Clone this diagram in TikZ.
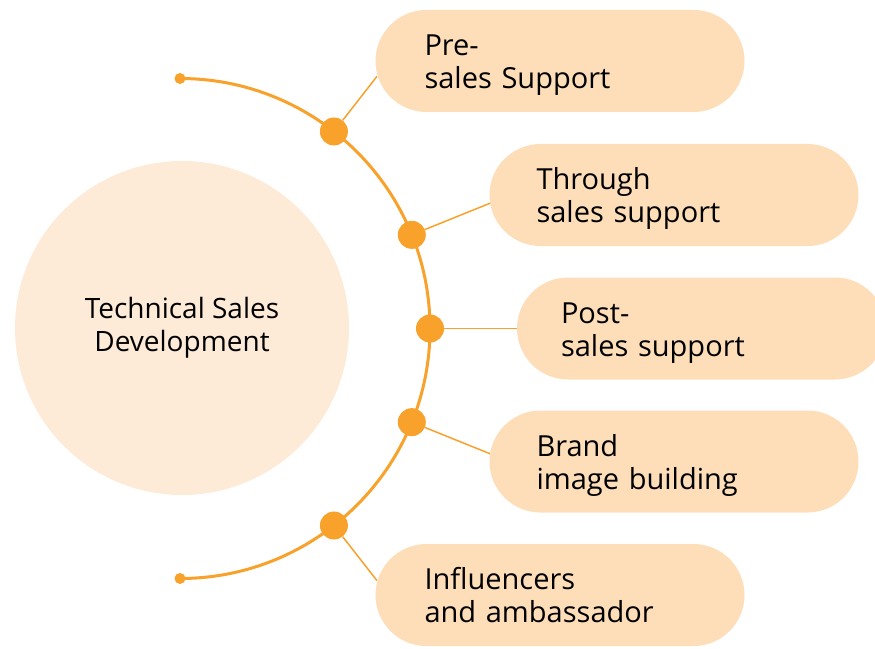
\documentclass[tikz,border=0pt]{standalone}
\usepackage{fontspec}
\setmainfont{Open Sans}
\usepackage{tikz}

\definecolor{arcorange}{HTML}{F8A12B}
\definecolor{pillfill}{HTML}{FDDEB8}
\definecolor{corefill}{HTML}{FDEBD8}

\begin{document}
\begin{tikzpicture}[x=1pt,y=1pt,
        pill/.style={fill=pillfill, rounded corners=51pt, minimum width=369pt,
            minimum height=102pt, text width=275pt, inner xsep=47pt, align=left,
            text height=25pt, text depth=36pt,
            font=\fontsize{29}{33}\selectfont},
        bigdot/.style={circle, fill=arcorange, inner sep=0pt, minimum size=28pt},
        enddot/.style={circle, fill=arcorange, inner sep=0pt, minimum size=11pt},
        link/.style={draw=arcorange, line width=1.5pt}]
        \clip (-180,-319.5) rectangle (695,328.5);

        \node[circle, fill=corefill, minimum size=334pt, align=center,
            font=\fontsize{28}{33}\selectfont] (core) at (2,0.5) {Technical Sales\\Development};

        \draw[arcorange, line width=3pt] (90:250) arc (90:-90:250);
        \node[enddot] (top) at (90:250) {};
        \node[enddot] (bot) at (-90:250) {};

        \coordinate (e1) at (52:320);
        \coordinate (e2) at (22:336);
        \coordinate (e3) at (0:337);
        \coordinate (e4) at (-22:336);
        \coordinate (e5) at (-52:320);

        \node[bigdot] (d1) at (52:250) {};
        \node[bigdot] (d2) at (22:250) {};
        \node[bigdot] (d3) at (0:250) {};
        \node[bigdot] (d4) at (-22:250) {};
        \node[bigdot] (d5) at (-52:250) {};

        \draw[link] (d1) -- (e1);
        \draw[link] (d2) -- (e2);
        \draw[link] (d3) -- (e3);
        \draw[link] (d4) -- (e4);
        \draw[link] (d5) -- (e5);

        \node[pill, inner xsep=49pt, text width=271pt] (p1) at (380,267.5) {Pre-\\sales Support};
        \node[pill] (p2) at (494,133.5) {Through\\sales support};
        \node[pill, inner xsep=44pt, text width=281pt] (p3) at (521.5,0) {Post-\\sales support};
        \node[pill] (p4) at (494,-133) {Brand\\image building};
        \node[pill, inner xsep=49pt, text width=271pt] (p5) at (380,-266.5) {Influencers\\and ambassador};
    \end{tikzpicture}
\end{document}
